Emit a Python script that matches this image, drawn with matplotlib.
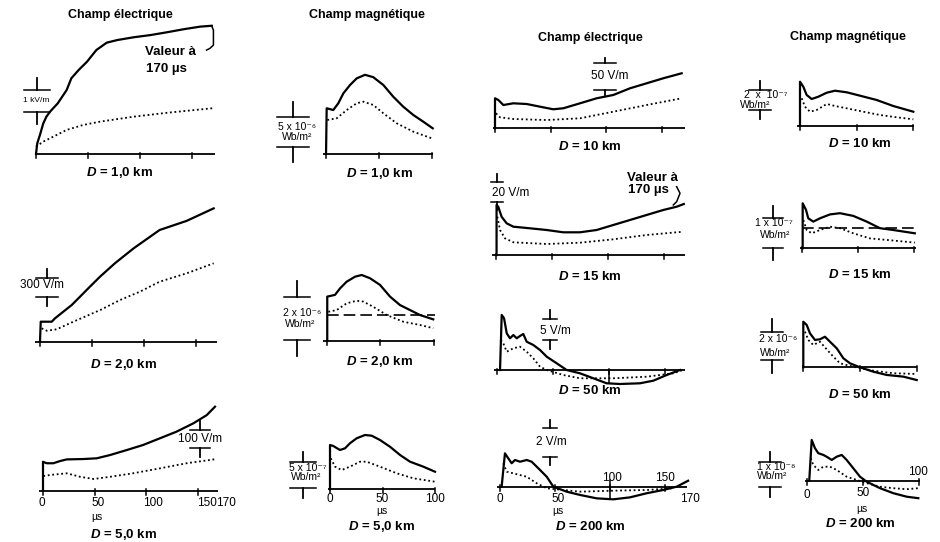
import numpy as np
import matplotlib.pyplot as plt

plt.rcParams['font.family'] = ['Liberation Sans', 'DejaVu Sans']
plt.rcParams['mathtext.fontset'] = 'custom'
plt.rcParams['mathtext.it'] = 'Liberation Sans:italic:bold'
plt.rcParams['mathtext.rm'] = 'Liberation Sans:bold'

# ---- champ électrique, D = 1,0 km (kV/m) ----
e1_t = [0, 1.2, 3.8, 7, 10, 13.5, 21, 29.5, 34, 41, 49, 58, 68, 78, 94, 110, 126, 142, 158, 169]
e1_v = [0, 0.49, 0.88, 1.41, 1.72, 1.95, 2.34, 2.95, 3.49, 3.87, 4.25, 4.79, 5.13, 5.25, 5.38,
        5.48, 5.61, 5.75, 5.87, 5.91]
e1_dt = [0, 7, 20, 29.5, 45.5, 61.5, 94, 126, 170]
e1_dv = [0.34, 0.57, 0.88, 1.11, 1.34, 1.49, 1.72, 1.90, 2.11]

# ---- champ électrique, D = 2,0 km (V/m) ----
e2_t = [0, 0.7, 11.3, 14.4, 22.4, 30.5, 38.5, 46.4, 57.7, 72, 90, 115, 141, 167]
e2_v = [0, 326, 326, 381, 489, 598, 734, 870, 1060, 1278, 1522, 1821, 1970, 2174]
e2_dt = [1.6, 6.4, 16, 32, 58, 77, 96, 115, 141, 167]
e2_dv = [218, 179, 202, 326, 517, 680, 815, 978, 1115, 1278]

# ---- champ électrique, D = 5,0 km (V/m) ----
e5_t = [0, 0, 3.6, 10, 16.5, 23, 39, 52, 65, 81, 97, 113, 129, 145.5, 158.5, 166.5]
e5_v = [0, 158, 150, 150, 162, 171, 173, 177, 195, 222, 250, 286, 322, 368, 413, 459]
e5_dt = [0.3, 7, 23, 36, 49, 65, 87, 113, 139, 168]
e5_dv = [80, 86, 95, 76, 64, 76, 95, 122, 150, 173]

# ---- champ magnétique, D = 1,0 km (1e-6 Wb/m2) ----
m1_t = [0.5, 1.1, 7.3, 12, 16.7, 23, 29.2, 37, 44.8, 54.2, 63.5, 72.9, 82.3, 91.7, 100.5]
m1_v = [0, 7.62, 7.33, 8.45, 10.1, 11.5, 12.6, 13.2, 12.8, 11.5, 9.55, 7.88, 6.5, 5.38, 4.28]
m1_dt = [1.7, 10.5, 19.9, 29.2, 35.4, 44.8, 54.2, 66.7, 82.3, 99.5]
m1_dv = [5.67, 5.95, 7.33, 8.45, 8.72, 8.17, 6.78, 5.12, 3.72, 2.62]

# ---- champ magnétique, D = 2,0 km (1e-6 Wb/m2) ----
m2_t = [0.7, 0.7, 7.9, 12.6, 18.8, 26.6, 32.8, 40.5, 49.9, 59.2, 68.5, 77.8, 87.1, 99.5]
m2_v = [0, 2.05, 2.13, 2.43, 2.74, 2.97, 3.05, 2.90, 2.59, 2.05, 1.66, 1.43, 1.20, 1.00]
m2_dt = [1.7, 9.5, 18.8, 28.1, 34.3, 43.6, 56.1, 71.6, 87.1, 99.5]
m2_dv = [1.35, 1.43, 1.74, 1.86, 1.82, 1.58, 1.20, 0.89, 0.74, 0.59]
m2_level = 1.2

# ---- champ magnétique, D = 5,0 km (1e-7 Wb/m2) ----
m5_t = [0, 0, 3.1, 9.5, 14.3, 19, 25.4, 33.3, 39.7, 47.6, 57.1, 66.7, 76.2, 88.9, 100]
m5_v = [0, 8.52, 8.33, 7.56, 7.88, 8.85, 9.81, 10.44, 10.31, 9.48, 8.19, 6.60, 5.31, 4.35, 3.38]
m5_dt = [0.7, 4.8, 11.1, 19, 28.6, 34.9, 47.6, 63.5, 79.3, 100]
m5_dv = [5.96, 4.35, 3.71, 4.35, 5.31, 5.31, 4.35, 3.08, 2.12, 1.46]

# ---- champ électrique, D = 10 km (V/m) ----
e10_t = [0, 0, 3, 7.5, 16.5, 28.5, 40.5, 52.5, 61.5, 76.5, 91.5, 106.5, 121.5, 136.5, 151.5, 168]
e10_v = [0, 56.2, 53, 43.6, 46.8, 45.5, 40.5, 35.6, 37.5, 46.8, 56.2, 62.4, 74.9, 84.3, 93.7, 103]
e10_dt = [0.9, 4.5, 16.5, 46.5, 76.5, 106.5, 136.5, 168]
e10_dv = [28.1, 20.6, 17.4, 15.5, 18.7, 31.1, 43.6, 56.2]

# ---- champ électrique, D = 15 km (V/m) ----
e15_t = [0.5, 0.5, 2, 5, 9.5, 15.5, 30.4, 45.3, 60.2, 75.1, 90, 104.9, 119.8, 134.7, 149.6,
         161.6, 168]
e15_v = [0, 50, 48.3, 38.3, 31.7, 28.3, 26.7, 25, 22.7, 22.7, 25, 30, 35, 40, 45, 48.3, 51]
e15_dt = [1.2, 3.6, 8, 15.5, 45.3, 75.1, 104.9, 134.7, 167.5]
e15_dv = [38.3, 25, 16.7, 12.7, 11, 12.3, 15.7, 20, 23.3]

# ---- champ électrique, D = 50 km (V/m) ----
e50_t = [2.7, 4.2, 6.3, 8.7, 11.6, 14.6, 17.6, 20.5, 23.5, 26.5, 32.4, 38.4, 44.4, 53.3, 62.2,
         74.1, 86, 97.9, 109.8, 127.7, 139.6, 151.5, 163.4]
e50_v = [0, 13.3, 12.5, 8.86, 7.66, 8.45, 7.66, 8.21, 8.69, 6.83, 6.04, 4.83, 3.21, 1.62, 0,
         -0.80, -2.0, -3.21, -3.38, -3.21, -2.58, -1.21, 0]
e50_dt = [3.3, 5.6, 8.7, 14.6, 20.5, 26.5, 32.4, 38.4, 44.4, 59.2, 74.1, 103.8, 133.7, 157.4, 166]
e50_dv = [7.25, 6.45, 4.42, 5.24, 5.63, 4.42, 2.83, 0.80, 0, -1.21, -2.0, -2.0, -1.62, -0.80, 0]

# ---- champ électrique, D = 200 km (V/m) ----
e200_t = [1.5, 4.5, 7.5, 10.6, 13.6, 18.2, 24.3, 28.8, 34.8, 42.5, 48.5, 60.6, 72.7, 87.9, 103,
          118.2, 133.4, 148.5, 160.6, 171]
e200_v = [0, 2.35, 2.0, 1.65, 1.88, 1.76, 1.88, 1.76, 1.30, 0.70, 0, -0.35, -0.58, -0.82, -0.89,
          -0.75, -0.46, -0.23, 0, 0.42]
e200_dt = [3, 6.1, 12.1, 18.2, 24.3, 33.4, 42.5, 72.7, 103, 133.4, 157.5]
e200_dv = [1.65, 1.06, 0.94, 0.82, 0.70, 0.24, -0.11, -0.35, -0.28, -0.23, -0.11]

# ---- champ magnétique, D = 10 km (1e-7 Wb/m2) ----
m10_t = [0, 0, 2.9, 5.9, 10.3, 16.2, 23.6, 30.9, 41.2, 53, 67.7, 82.3, 100]
m10_v = [0, 4.43, 3.93, 3.10, 2.70, 2.93, 3.33, 3.53, 3.37, 3.03, 2.60, 2.00, 1.43]
m10_dt = [1.5, 4.4, 8.8, 14.7, 23.6, 30.9, 41.2, 55.9, 70.6, 85.3, 100]
m10_dv = [2.77, 1.93, 1.43, 1.60, 2.20, 2.00, 1.77, 1.43, 1.10, 0.87, 0.67]

# ---- champ magnétique, D = 15 km (1e-7 Wb/m2) ----
m15_t = [0.6, 0.6, 3.6, 5.6, 10.1, 16.1, 25.1, 34, 45.9, 57.9, 69.8, 81.7, 101]
m15_v = [0, 1.50, 1.28, 1.00, 0.89, 1.00, 1.13, 1.17, 1.08, 0.89, 0.67, 0.61, 0.50]
m15_dt = [1.2, 4.2, 8.7, 16.1, 25.1, 34, 45.9, 60.8, 75.7, 101]
m15_dv = [0.94, 0.61, 0.50, 0.61, 0.72, 0.67, 0.50, 0.33, 0.28, 0.19]
m15_level = 0.67

# ---- champ magnétique, D = 50 km (1e-6 Wb/m2) ----
m50_t = [0, 0, 3, 5.9, 10.3, 14.7, 19.1, 23.5, 29.5, 35.3, 41.2, 50, 61.7, 73.5, 88.2, 100]
m50_v = [0, 3.22, 2.99, 2.40, 1.93, 1.98, 2.16, 1.81, 1.34, 0.64, 0.28, 0, -0.31, -0.54, -0.66,
         -0.90]
m50_dt = [1.5, 4.4, 8.8, 14.7, 20.6, 26.5, 32.4, 44.1, 61.7, 79.4, 100]
m50_dv = [2.52, 1.93, 1.58, 1.81, 1.27, 0.75, 0.28, 0.04, -0.24, -0.42, -0.47]

# ---- champ magnétique, D = 200 km (1e-8 Wb/m2) ----
m200_t = [2, 4.2, 7.1, 10.1, 14.6, 17.9, 22.1, 26.5, 31, 35.4, 41.3, 47.3, 53.3, 65.2, 77.1, 89,
          99.4]
m200_v = [0, 1.63, 1.30, 1.10, 1.03, 0.95, 0.83, 0.96, 1.03, 0.83, 0.50, 0.16, -0.04, -0.30,
          -0.50, -0.64, -0.70]
m200_dt = [3.3, 5.6, 10.1, 14.6, 20.5, 26.5, 35.4, 44.4, 53.3, 65.2, 77.1, 89, 99.4]
m200_dv = [0.90, 0.63, 0.43, 0.56, 0.56, 0.43, 0.16, 0.03, -0.10, -0.24, -0.30, -0.34, -0.30]

W, H = 940, 542
fig = plt.figure(figsize=(W / 100, H / 100), dpi=100)
fig.patch.set_facecolor('white')

DOTS = (0, (1.0, 1.5))


def txt(x, y, s, size=9, **kw):
    # text placed in figure pixels (origin top left)
    kw.setdefault('ha', 'center')
    kw.setdefault('va', 'center')
    fig.text(x / W, 1 - y / H, s, fontsize=size, **kw)


def panel(x0, k, ybase, ppv, t_axis, ticks):
    # each panel is a full-figure transparent axes: x0 = pixel of t=0,
    # k = pixels per microsecond, ybase = pixel row of zero, ppv = pixels per unit
    ax = fig.add_axes([0, 0, 1, 1])
    ax.set_xlim(-x0 / k, (W - x0) / k)
    ax.set_ylim((ybase - H) / ppv, ybase / ppv)
    ax.axis('off')
    ax.patch.set_alpha(0)
    ax.plot(t_axis, [0, 0], color='k', lw=1.3, solid_capstyle='butt')
    for t in ticks:
        ax.plot([t, t], [-4 / ppv, 1.5 / ppv], color='k', lw=1.1)
    return ax, k, ppv


def curves(p, t, v, dt, dv):
    ax = p[0]
    ax.plot(t, v, color='k', lw=1.6, solid_joinstyle='round')
    ax.plot(dt, dv, color='k', lw=1.3, ls=DOTS)


def scalebar(p, t, v0, s, half=12, stem=11):
    ax, k, ppv = p
    hw = half / k
    for v in (v0, v0 + s):
        ax.plot([t - hw, t + hw], [v, v], color='k', lw=1.1, clip_on=False)
    ax.plot([t, t], [v0 + s, v0 + s + stem / ppv], color='k', lw=1.3)
    ax.plot([t, t], [v0, v0 - stem / ppv], color='k', lw=1.3)


E_TICKS = [0, 50, 100, 150]
M_TICKS = [0, 50, 100]

# colonne 1 : champ électrique proche
pa = panel(36, 1.04, 154, 21.7, [-1, 172], E_TICKS)
curves(pa, e1_t, e1_v, e1_dt, e1_dv)
scalebar(pa, 0.5, 1.95, 1, half=13, stem=12)
pa[0].plot([169, 170.6, 170.6, 167.3, 164], [5.9, 5.71, 5.02, 4.87, 4.79], color='k', lw=1.1)

pb = panel(40, 1.04, 341.7, 18.4 / 300, [-4.8, 170], E_TICKS)
curves(pb, e2_t, e2_v, e2_dt, e2_dv)
scalebar(pb, 6.7, 734, 300, half=11, stem=9)

pc = panel(43, 1.033, 490.7, 0.183, [-3.6, 169], E_TICKS)
curves(pc, e5_t, e5_v, e5_dt, e5_dv)
scalebar(pc, 152, 232, 100, half=10, stem=9)

# colonne 2 : champ magnétique proche
pd = panel(325.5, 1.067, 154, 6.0, [-2, 101], M_TICKS)
curves(pd, m1_t, m1_v, m1_dt, m1_dv)
scalebar(pd, -30.7, 1.22, 5, half=16, stem=15)

pe = panel(326.5, 1.073, 341, 21.65, [-3, 101], M_TICKS)
curves(pe, m2_t, m2_v, m2_dt, m2_dv)
pe[0].plot([0, 101], [m2_level, m2_level], color='k', lw=1.2, ls=(0, (7, 3)))
scalebar(pe, -27.5, 0.05, 2, half=13, stem=16)

pf = panel(330, 1.05, 489.3, 5.2, [-1.6, 100], M_TICKS)
curves(pf, m5_t, m5_v, m5_dt, m5_dv)
scalebar(pf, -25.4, 0.31, 5, half=13, stem=10)

# colonne 3 : champ électrique lointain
pg = panel(495, 1.111, 128.3, 0.534, [-1.5, 171], E_TICKS)
curves(pg, e10_t, e10_v, e10_dt, e10_dv)
scalebar(pg, 99, 71.7, 50, half=11, stem=5)

ph = panel(496, 1.118, 255, 1.0, [-3.9, 169], E_TICKS)
curves(ph, e15_t, e15_v, e15_dt, e15_dv)
scalebar(ph, 1, 53.3, 20, half=6, stem=8)
ph[0].plot([161.6, 164.6, 161.6, 158.6], [68.3, 61.7, 53.3, 50], color='k', lw=1.1)

pi = panel(497, 1.12, 370, 4.14, [-3, 168], E_TICKS)
curves(pi, e50_t, e50_v, e50_dt, e50_dv)
scalebar(pi, 47.3, 7.25, 5, half=7, stem=9)
pi[0].plot([100, 100], [0, np.interp(100, e50_t, e50_v)], color='k', lw=1.1)

pj = panel(500, 1.1, 486.7, 14.2, [-3, 170], E_TICKS)
curves(pj, e200_t, e200_v, e200_dt, e200_dv)
scalebar(pj, 45.5, 2.11, 2, half=7, stem=8)
pj[0].plot([100, 100], [0.5, np.interp(100, e200_t, e200_v)], color='k', lw=1.1)

# colonne 4 : champ magnétique lointain
pk = panel(800, 1.133, 126, 10.0, [-3, 101], M_TICKS)
curves(pk, m10_t, m10_v, m10_dt, m10_dv)
scalebar(pk, -35.3, 1.6, 2, half=11, stem=9)

pl = panel(802, 1.117, 248.3, 30.0, [-2, 102], M_TICKS)
curves(pl, m15_t, m15_v, m15_dt, m15_dv)
pl[0].plot([0, 102], [m15_level, m15_level], color='k', lw=1.2, ls=(0, (7, 3)))
scalebar(pl, -25.7, 0, 1, half=10, stem=12)

pm = panel(803.3, 1.134, 367.3, 14.15, [-1.4, 100], M_TICKS)
curves(pm, m50_t, m50_v, m50_dt, m50_dv)
scalebar(pm, -27.9, 0.52, 2, half=11, stem=13)

pn = panel(807, 1.12, 480.7, 25.0, [-1.8, 101], M_TICKS)
curves(pn, m200_t, m200_v, m200_dt, m200_dv)
scalebar(pn, -33, -0.24, 1, half=11, stem=10)

# titres
txt(120, 15, 'Champ électrique', 9, weight='bold')
txt(366.7, 15, 'Champ magnétique', 9, weight='bold')
txt(590, 38.3, 'Champ électrique', 9, weight='bold')
txt(848.3, 36.7, 'Champ magnétique', 9, weight='bold')

# distances
for x, y, d in [(120, 173, '1,0'), (123.3, 365, '2,0'), (123.3, 534.5, '5,0'),
                (380, 173.3, '1,0'), (380, 361.7, '2,0'), (381.7, 526.7, '5,0'),
                (590, 146.7, '10'), (590, 276.7, '15'), (590, 390, '50'), (590, 526.7, '200'),
                (860, 143.3, '10'), (860, 274, '15'), (860, 395, '50'), (860, 523.3, '200')]:
    txt(x, y, '$D$ = ' + d + ' km', 9.5, weight='bold')

# valeurs à 170 µs
txt(145, 52, 'Valeur à', 9.5, weight='bold', ha='left')
txt(146, 69, '170 µs', 9.5, weight='bold', ha='left')
txt(627, 178, 'Valeur à', 9.5, weight='bold', ha='left')
txt(628, 190, '170 µs', 9.5, weight='bold', ha='left')

# échelles
txt(36, 100.5, '1 kV/m', 6)
txt(42.5, 285.5, '300 V/m', 8.5)
txt(200, 439.5, '100 V/m', 8.5)
txt(610, 76, '50 V/m', 8.5)
txt(511, 193, '20 V/m', 8.5)
txt(555, 331.5, '5 V/m', 8.5)
txt(551.7, 441.7, '2 V/m', 8.5)
for x, y, a in [(297, 126.5, '5 x 10⁻⁶'), (302, 313.5, '2 x 10⁻⁶'), (308, 468.3, '5 x 10⁻⁷'),
                (766, 95.5, '2  x  10⁻⁷'), (774, 223.5, '1 x 10⁻⁷'), (778, 338.5, '2 x 10⁻⁶'),
                (776, 467.5, '1 x 10⁻⁸')]:
    txt(x, y, a, 7.5)
for x, y in [(297, 137), (300, 324), (306, 477), (755, 105.5), (775, 235), (775, 352.5),
             (772, 476)]:
    txt(x, y, 'Wb/m²', 7.5)

# graduations en microsecondes
for x, y, s in [(41.7, 503, '0'), (98, 503, '50'), (153, 503, '100'), (206.7, 503, '150'),
                (226, 503, '170'),
                (330, 499, '0'), (381.7, 499, '50'), (435, 499, '100'),
                (500, 499, '0'), (558.3, 499, '50'), (611.7, 478.3, '100'), (665, 478.3, '150'),
                (690, 499, '170'),
                (806.7, 494.5, '0'), (863.3, 493, '50'), (918.3, 472, '100')]:
    txt(x, y, s, 8.5)
for x, y in [(97, 516.5), (381.7, 510.5), (558.3, 510.5), (861.7, 509)]:
    txt(x, y, 'µs', 7.5)

fig.savefig('out.png', dpi=100)
